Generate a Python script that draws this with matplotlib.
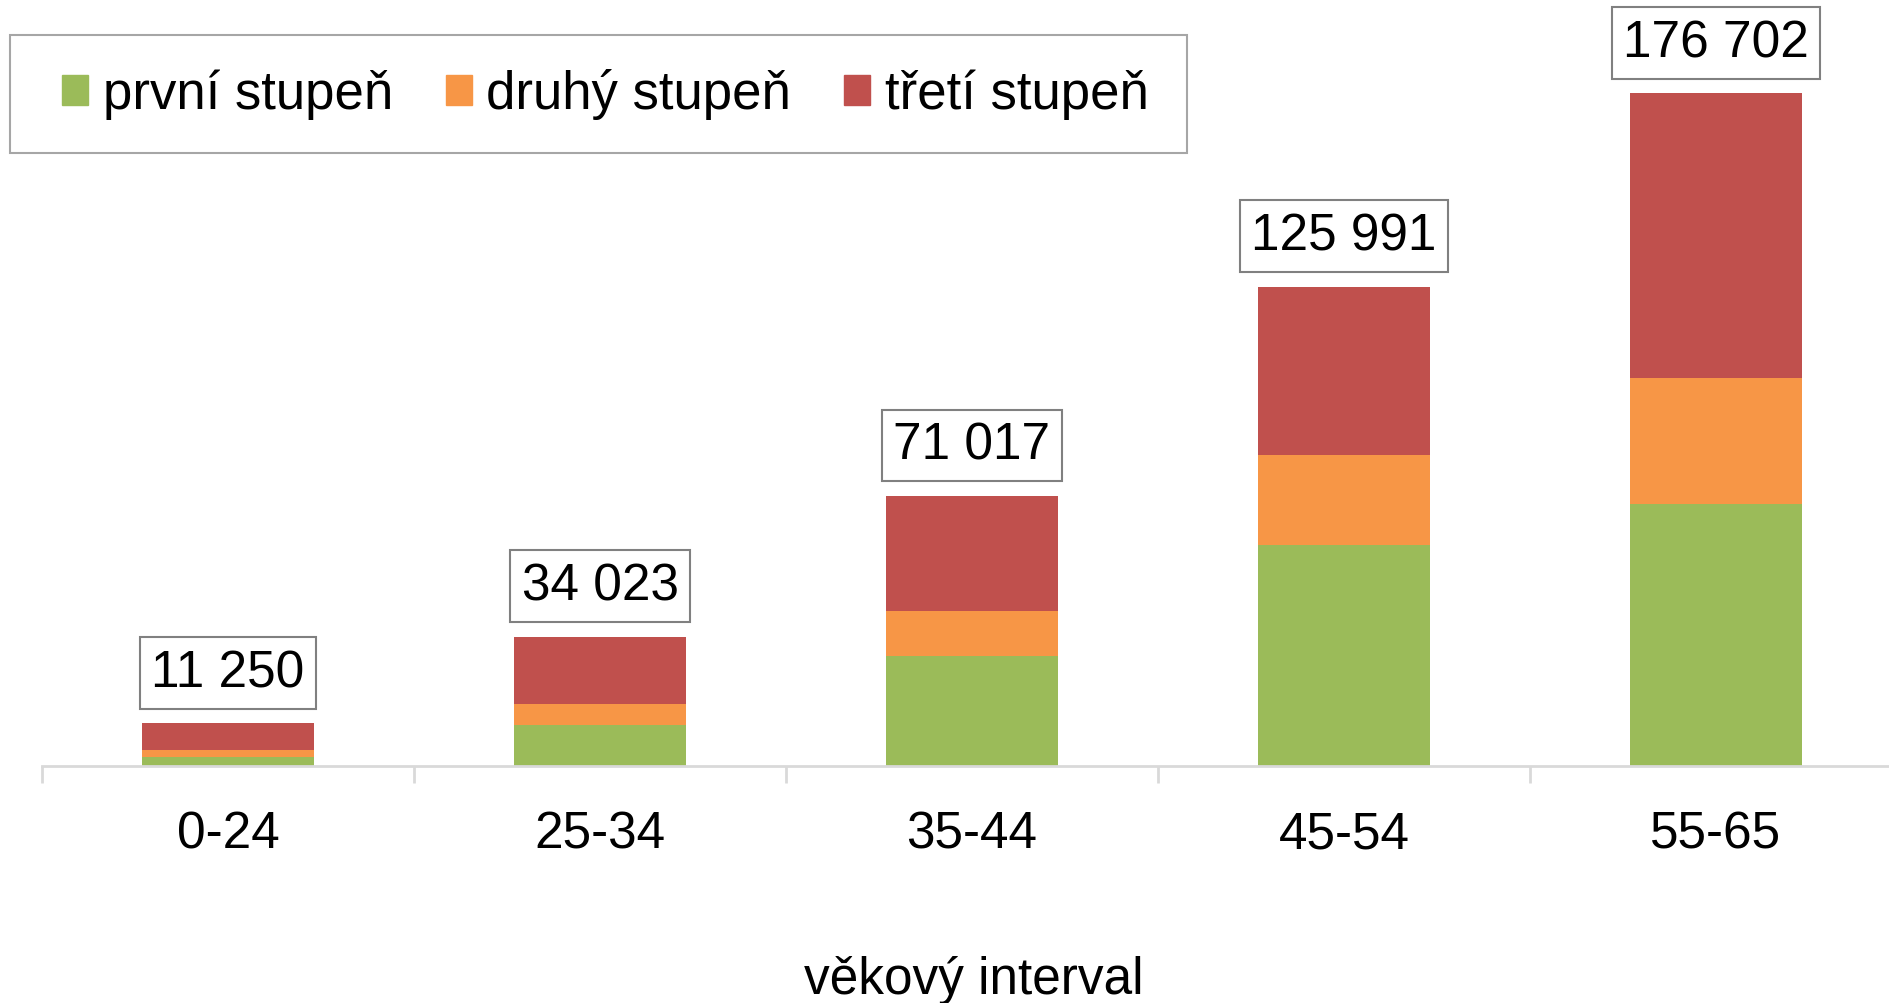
import matplotlib.pyplot as plt
from matplotlib.patches import Patch, Rectangle

plt.rcParams['font.family'] = ['Liberation Sans', 'DejaVu Sans']

intervaly = ['0-24', '25-34', '35-44', '45-54', '55-65']
prvni = [2520, 10850, 29040, 58110, 68880]
druhy = [1760, 5510, 11660, 23630, 33090]
treti = [6970, 17663, 30317, 44251, 74732]
celkem = [11250, 34023, 71017, 125991, 176702]
popisky = ['11 250', '34 023', '71 017', '125 991', '176 702']

barvy = ['#9BBB59', '#F79646', '#C0504D']
nazvy = ['první stupeň', 'druhý stupeň', 'třetí stupeň']


def main():
    fig = plt.figure(figsize=(18.9, 10.04), dpi=100)
    ax = fig.add_axes([42 / 1890, 1 - 767.3 / 1004, 1860 / 1890, 767.3 / 1004])

    x = range(len(intervaly))
    w = 0.46
    spodek = [0] * len(intervaly)
    for hodnoty, barva in zip([prvni, druhy, treti], barvy):
        ax.bar(x, hodnoty, w, bottom=spodek, color=barva, edgecolor='none')
        spodek = [a + b for a, b in zip(spodek, hodnoty)]

    # popisky souctu v ramecku
    for i, (c, t) in enumerate(zip(celkem, popisky)):
        ax.annotate(t, (i, c), xytext=(0, 18.7), textcoords='offset points',
                    ha='center', va='bottom', fontsize=37,
                    bbox=dict(boxstyle='square,pad=0.22', fc='white',
                              ec='#808080', lw=1.5))

    ax.set_xlim(-0.5, 4.5)
    ax.set_ylim(0, 767.3 * 262.6)
    for s in ['top', 'right', 'left']:
        ax.spines[s].set_visible(False)
    ax.spines['bottom'].set_color('#D9D9D9')
    ax.spines['bottom'].set_linewidth(2)
    ax.set_yticks([])
    ax.set_xticks([i - 0.5 for i in range(6)], minor=False)
    ax.set_xticklabels([])
    ax.tick_params(axis='x', which='major', length=12, width=2, color='#D9D9D9',
                   direction='out')
    ax.set_xticks(list(x), minor=True)
    ax.set_xticklabels(intervaly, minor=True, fontsize=37)
    ax.tick_params(axis='x', which='minor', length=0, pad=31)

    fig.text(0.515, 1 - 981 / 1004, 'věkový interval', ha='center', va='center',
             fontsize=37)

    # legenda s rameckem
    fig.patches.append(Rectangle((10 / 1890, 1 - 154 / 1004), 1177 / 1890,
                                 118 / 1004, transform=fig.transFigure,
                                 fill=False, ec='#A6A6A6', lw=1.5))
    handles = [Patch(color=b, label=n) for b, n in zip(barvy, nazvy)]
    fig.legend(handles=handles, loc='center left', ncol=3, frameon=False,
               bbox_to_anchor=(62 / 1890, 1 - 95 / 1004), fontsize=38,
               handlelength=0.5, handleheight=0.5, handletextpad=0.27,
               columnspacing=1.0, borderpad=0, borderaxespad=0)

    fig.savefig('out.png', dpi=100)


if __name__ == "__main__":
    main()
